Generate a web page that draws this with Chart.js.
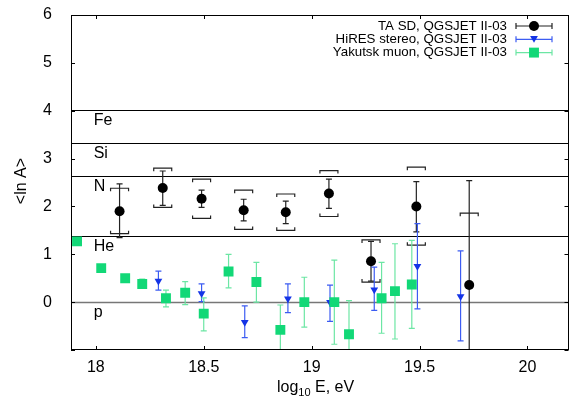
<!DOCTYPE html>
<html>
<head>
<meta charset="utf-8">
<script src="https://cdn.jsdelivr.net/npm/chart.js@4"></script>
<style>
  body { margin: 0; background: #fff; }
  canvas { display: block; }
</style>
</head>
<body>
<canvas id="lnA" width="570" height="404"></canvas>
<script>
// TA SD, QGSJET II-03
var taX = [18.11, 18.31, 18.49, 18.685, 18.88, 19.08, 19.275, 19.485, 19.73];
var taY = [1.90, 2.385, 2.16, 1.92, 1.88, 2.27, 0.855, 2.00, 0.36];
var taLo = [1.35, 2.02, 1.98, 1.70, 1.64, 1.96, 0.44, 1.47, -1.5];
var taHi = [2.47, 2.74, 2.34, 2.15, 2.11, 2.57, 1.27, 2.52, 2.54];
var taSysLo = [1.43, 1.98, 1.75, 1.52, 1.50, 1.79, 0.42, 1.19, null];
var taSysHi = [2.38, 2.80, 2.57, 2.34, 2.26, 2.75, 1.30, 2.82, 1.86];

// HiRES stereo, QGSJET II-03
var hrX = [18.29, 18.49, 18.69, 18.89, 19.085, 19.29, 19.49, 19.69];
var hrY = [0.44, 0.18, -0.42, 0.07, 0.0, 0.26, 0.75, 0.12];
var hrLo = [0.25, 0.01, -0.74, -0.22, -0.40, -0.17, -0.14, -0.81];
var hrHi = [0.65, 0.38, -0.08, 0.38, 0.355, 0.73, 1.64, 1.07];

// Yakutsk muon, QGSJET II-03
var ykX = [17.913, 18.025, 18.136, 18.215, 18.325, 18.414, 18.50, 18.615, 18.744, 18.855, 18.966, 19.105, 19.173, 19.324, 19.386, 19.464];
var ykY = [1.27, 0.71, 0.50, 0.38, 0.08, 0.195, -0.24, 0.64, 0.42, -0.58, 0.0, 0.0, -0.67, 0.08, 0.23, 0.37];
var ykLo = [null, null, null, 0.30, -0.10, -0.05, -0.60, 0.30, 0.0, -1.5, -0.52, -0.88, -1.5, -0.65, -0.77, -0.55];
var ykHi = [null, null, null, 0.48, 0.25, 0.43, 0.09, 1.00, 0.83, -0.06, 0.52, 0.88, 0.03, 0.83, 1.22, 1.29];

// nuclei reference lines <ln A>
var nucNames = ['p', 'He', 'N', 'Si', 'Fe'];
var nucLnA = [0, 1.386, 2.639, 3.332, 4.025];

var xTicks = [18, 18.5, 19, 19.5, 20];
var xTickLabels = ['18', '18.5', '19', '19.5', '20'];
var yTicks = [-1, 0, 1, 2, 3, 4, 5, 6];

var FONT = '"Liberation Sans", Arial, sans-serif';
var cBlack = '#000000', cBlackBar = '#222222';
var cBlue = '#1434e6', cBlueBar = '#3c5cf2';
var cGreen = '#12d877', cGreenBar = '#6ce6a4';

function pts(xs, ys) {
	return xs.map(function (v, i) { return {x: v, y: ys[i]}; });
}

function statBars(ctx, x, y, xs, lo, hi, color) {
	ctx.strokeStyle = color;
	ctx.lineWidth = 1.2;
	for (var i = 0; i < xs.length; i++) {
		if (lo[i] === null || hi[i] === null) continue;
		var px = x.getPixelForValue(xs[i]);
		var y1 = y.getPixelForValue(lo[i]), y2 = y.getPixelForValue(hi[i]);
		ctx.beginPath();
		ctx.moveTo(px, y1); ctx.lineTo(px, y2);
		ctx.moveTo(px - 3, y1); ctx.lineTo(px + 3, y1);
		ctx.moveTo(px - 3, y2); ctx.lineTo(px + 3, y2);
		ctx.stroke();
	}
}

function sysBrackets(ctx, x, y, xs, lo, hi, color) {
	ctx.strokeStyle = color;
	ctx.lineWidth = 1.2;
	for (var i = 0; i < xs.length; i++) {
		var px = x.getPixelForValue(xs[i]);
		if (hi[i] !== null) {
			var yh = y.getPixelForValue(hi[i]);
			ctx.beginPath();
			ctx.moveTo(px - 9, yh + 3); ctx.lineTo(px - 9, yh); ctx.lineTo(px + 9, yh); ctx.lineTo(px + 9, yh + 3);
			ctx.stroke();
		}
		if (lo[i] !== null) {
			var yl = y.getPixelForValue(lo[i]);
			ctx.beginPath();
			ctx.moveTo(px - 9, yl - 3); ctx.lineTo(px - 9, yl); ctx.lineTo(px + 9, yl); ctx.lineTo(px + 9, yl - 3);
			ctx.stroke();
		}
	}
}

var extras = {
	id: 'extras',
	beforeDatasetsDraw: function (chart) {
		var ctx = chart.ctx, a = chart.chartArea, x = chart.scales.x, y = chart.scales.y;
		ctx.save();
		ctx.beginPath();
		ctx.rect(a.left, a.top, a.right - a.left, a.bottom - a.top);
		ctx.clip();

		// reference lines + labels
		ctx.font = '16px ' + FONT;
		ctx.textAlign = 'left';
		ctx.textBaseline = 'middle';
		for (var i = 0; i < nucLnA.length; i++) {
			var py = Math.round(y.getPixelForValue(nucLnA[i])) + 0.5;
			ctx.beginPath();
			ctx.strokeStyle = i === 0 ? '#777777' : '#000000';
			ctx.lineWidth = i === 0 ? 1.6 : 1;
			ctx.moveTo(a.left, py); ctx.lineTo(a.right, py);
			ctx.stroke();
			ctx.fillStyle = '#000';
			ctx.fillText(nucNames[i], x.getPixelForValue(17.99), py + 10);
		}

		statBars(ctx, x, y, taX, taLo, taHi, cBlackBar);
		sysBrackets(ctx, x, y, taX, taSysLo, taSysHi, cBlackBar);
		statBars(ctx, x, y, hrX, hrLo, hrHi, cBlueBar);
		statBars(ctx, x, y, ykX, ykLo, ykHi, cGreenBar);
		ctx.restore();
	},
	afterDraw: function (chart) {
		var ctx = chart.ctx, a = chart.chartArea, x = chart.scales.x, y = chart.scales.y;
		ctx.save();
		// frame
		ctx.strokeStyle = '#000';
		ctx.lineWidth = 1;
		ctx.strokeRect(Math.round(a.left) + 0.5, Math.round(a.top) + 0.5,
			Math.round(a.right - a.left) - 1, Math.round(a.bottom - a.top) - 1);
		// inward ticks on all sides
		ctx.beginPath();
		xTicks.forEach(function (v) {
			var px = Math.round(x.getPixelForValue(v)) + 0.5;
			ctx.moveTo(px, a.bottom); ctx.lineTo(px, a.bottom - 4);
			ctx.moveTo(px, a.top); ctx.lineTo(px, a.top + 4);
		});
		yTicks.forEach(function (v) {
			var py = Math.round(y.getPixelForValue(v)) + 0.5;
			ctx.moveTo(a.left, py); ctx.lineTo(a.left + 4, py);
			ctx.moveTo(a.right, py); ctx.lineTo(a.right - 4, py);
		});
		ctx.stroke();

		// x tick labels
		ctx.fillStyle = '#000';
		ctx.font = '16px ' + FONT;
		ctx.textAlign = 'center';
		ctx.textBaseline = 'top';
		xTicks.forEach(function (v, i) {
			ctx.fillText(xTickLabels[i], x.getPixelForValue(v), a.bottom + 10);
		});

		// axis titles
		ctx.textBaseline = 'alphabetic';
		ctx.textAlign = 'left';
		var tx = 277, ty = 392;
		ctx.font = '16px ' + FONT;
		ctx.fillText('log', tx, ty);
		tx += ctx.measureText('log').width;
		ctx.font = '11px ' + FONT;
		ctx.fillText('10', tx, ty + 4);
		tx += ctx.measureText('10').width;
		ctx.font = '16px ' + FONT;
		ctx.fillText(' E, eV', tx, ty);

		ctx.save();
		ctx.translate(26, 181);
		ctx.rotate(-Math.PI / 2);
		ctx.textAlign = 'center';
		ctx.fillText('<ln A>', 0, 0);
		ctx.restore();

		// legend
		var rows = [
			{text: 'TA SD, QGSJET II-03', line: cBlackBar, fill: cBlack, style: 'circle', r: 5, rot: 0},
			{text: 'HiRES stereo, QGSJET II-03', line: cBlueBar, fill: cBlue, style: 'triangle', r: 4.5, rot: 180},
			{text: 'Yakutsk muon, QGSJET II-03', line: cGreenBar, fill: cGreen, style: 'rect', r: 7, rot: 0}
		];
		ctx.font = '13.3px ' + FONT;
		ctx.textAlign = 'right';
		ctx.textBaseline = 'middle';
		rows.forEach(function (r, i) {
			var ly = 26 + i * 13.3;
			ctx.fillStyle = '#000';
			ctx.fillText(r.text, 507, ly);
			ctx.strokeStyle = r.line;
			ctx.lineWidth = 1.2;
			ctx.beginPath();
			ctx.moveTo(516, ly); ctx.lineTo(552, ly);
			ctx.moveTo(516, ly - 3); ctx.lineTo(516, ly + 3);
			ctx.moveTo(552, ly - 3); ctx.lineTo(552, ly + 3);
			ctx.stroke();
			ctx.fillStyle = r.fill;
			ctx.strokeStyle = r.fill;
			ctx.lineWidth = 0;
			Chart.helpers.drawPoint(ctx, {pointStyle: r.style, radius: r.r, rotation: r.rot, borderWidth: 0}, 534, ly + (r.style === 'triangle' ? -1 : 0));
		});
		ctx.restore();
	}
};

new Chart(document.getElementById('lnA'), {
	type: 'scatter',
	data: {
		datasets: [
			{
				label: 'Yakutsk muon, QGSJET II-03',
				data: pts(ykX, ykY),
				pointStyle: 'rect',
				pointRadius: 7,
				backgroundColor: cGreen,
				borderColor: cGreen,
				borderWidth: 0,
				order: 0
			},
			{
				label: 'HiRES stereo, QGSJET II-03',
				data: pts(hrX, hrY),
				pointStyle: 'triangle',
				rotation: 180,
				pointRadius: 4.5,
				backgroundColor: cBlue,
				borderColor: cBlue,
				borderWidth: 0,
				order: 1
			},
			{
				label: 'TA SD, QGSJET II-03',
				data: pts(taX, taY),
				pointStyle: 'circle',
				pointRadius: 5,
				backgroundColor: cBlack,
				borderColor: cBlack,
				borderWidth: 0,
				order: 2
			}
		]
	},
	options: {
		responsive: false,
		animation: false,
		layout: { autoPadding: false, padding: { top: 15, right: 1.5, bottom: 0, left: 0 } },
		plugins: { legend: { display: false }, tooltip: { enabled: false } },
		scales: {
			x: {
				type: 'linear',
				min: 17.885,
				max: 20.19,
				grid: { display: false },
				border: { display: false },
				afterBuildTicks: function (s) { s.ticks = xTicks.map(function (v) { return {value: v}; }); },
				afterFit: function (s) { s.height = 54; s.paddingLeft = 0; s.paddingRight = 0; },
				ticks: { display: false }
			},
			y: {
				type: 'linear',
				min: -1,
				max: 6,
				grid: { display: false },
				border: { display: false },
				afterBuildTicks: function (s) { s.ticks = yTicks.map(function (v) { return {value: v}; }); },
				afterFit: function (s) { s.width = 71; s.paddingTop = 0; s.paddingBottom = 0; },
				ticks: {
					padding: 11,
					color: '#000',
					font: { family: FONT, size: 16 },
					callback: function (v) { return v < 0 ? '' : String(v); }
				}
			}
		}
	},
	plugins: [extras]
});
</script>
</body>
</html>
